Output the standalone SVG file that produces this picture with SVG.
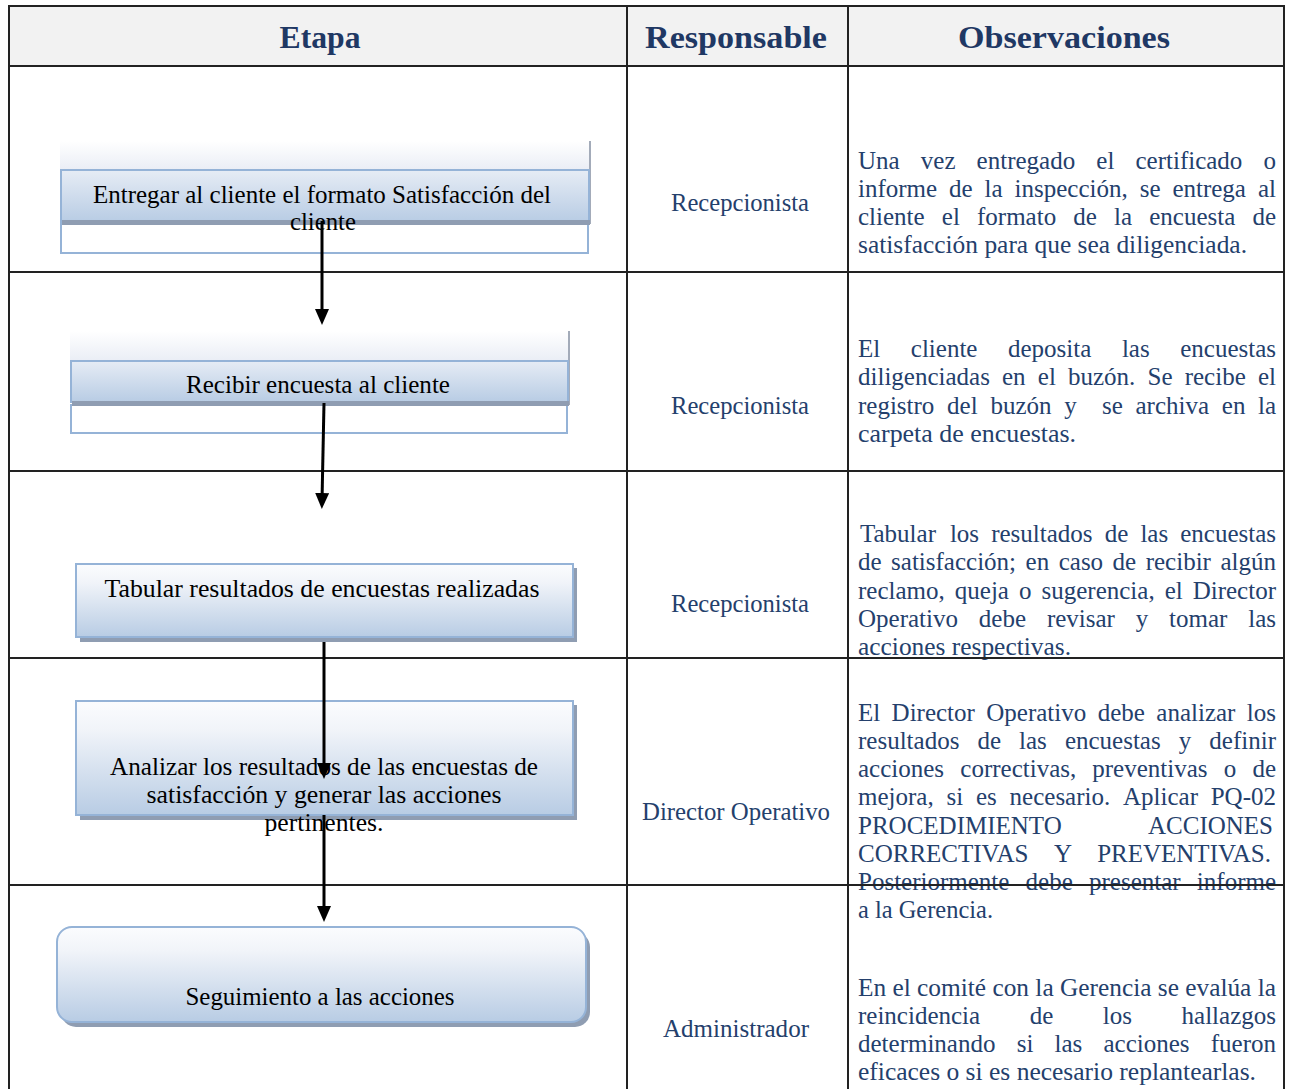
<svg xmlns="http://www.w3.org/2000/svg" width="1289" height="1089" viewBox="0 0 1289 1089">
<defs>
<style>
.hdr{font-family:"Liberation Serif",serif;font-weight:bold;font-size:31px;fill:#1f3864;text-anchor:middle}
.resp{font-family:"Liberation Serif",serif;font-size:25px;fill:#24406c;text-anchor:middle}
.obs{font-family:"Liberation Serif",serif;font-size:25px;fill:#24406c}
.lbl{font-family:"Liberation Serif",serif;font-size:25px;fill:#000;text-anchor:middle}
.grid{stroke:#222;stroke-width:2;fill:none}
.bord{stroke:#95b3d7;stroke-width:2}
.shadow{fill:#8f9db2}
.conn{stroke:#000;stroke-width:3;fill:none;marker-end:url(#arr)}
</style>
<linearGradient id="fade" x1="0" y1="0" x2="0" y2="1">
<stop offset="0" stop-color="#ffffff"/><stop offset="1" stop-color="#e9edf5"/>
</linearGradient>
<linearGradient id="band" x1="0" y1="0" x2="0" y2="1">
<stop offset="0" stop-color="#e6ecf5"/><stop offset="1" stop-color="#b8cce4"/>
</linearGradient>
<linearGradient id="box" x1="0" y1="0" x2="0" y2="1">
<stop offset="0" stop-color="#fbfcfe"/><stop offset="0.25" stop-color="#f1f4f9"/><stop offset="1" stop-color="#b8cce4"/>
</linearGradient>
<marker id="arr" viewBox="0 0 16 14" refX="8" refY="7" markerWidth="16" markerHeight="14" markerUnits="userSpaceOnUse" orient="auto">
<path d="M0,0 L16,7 L0,14 z" fill="#000"/>
</marker>
</defs>

<rect x="0" y="0" width="1289" height="1089" fill="#fff"/>
<rect x="9" y="6" width="1275" height="60" fill="#f2f2f2"/>

<g id="headers">
<text class="hdr" x="320" y="48" textLength="81" lengthAdjust="spacingAndGlyphs">Etapa</text>
<text class="hdr" x="736" y="48" textLength="182" lengthAdjust="spacingAndGlyphs">Responsable</text>
<text class="hdr" x="1064" y="48" textLength="212" lengthAdjust="spacingAndGlyphs">Observaciones</text>
</g>

<g id="responsables">
<text class="resp" x="740" y="211" textLength="138" lengthAdjust="spacingAndGlyphs">Recepcionista</text>
<text class="resp" x="740" y="414" textLength="138" lengthAdjust="spacingAndGlyphs">Recepcionista</text>
<text class="resp" x="740" y="612" textLength="138" lengthAdjust="spacingAndGlyphs">Recepcionista</text>
<text class="resp" x="736" y="820" textLength="188" lengthAdjust="spacingAndGlyphs">Director Operativo</text>
<text class="resp" x="736" y="1037" textLength="146" lengthAdjust="spacingAndGlyphs">Administrador</text>
</g>

<g id="observaciones">
<text class="obs" y="169"><tspan x="858">Una</tspan><tspan x="920.8">vez</tspan><tspan x="976.6">entregado</tspan><tspan x="1096.3">el</tspan><tspan x="1135.5">certificado</tspan><tspan x="1276" text-anchor="end">o</tspan></text>
<text class="obs" y="197"><tspan x="858">informe</tspan><tspan x="949.1">de</tspan><tspan x="984.6">la</tspan><tspan x="1014.6">inspección,</tspan><tspan x="1139.7">se</tspan><tspan x="1172.4">entrega</tspan><tspan x="1276" text-anchor="end">al</tspan></text>
<text class="obs" y="225"><tspan x="858">cliente</tspan><tspan x="941.8">el</tspan><tspan x="977">formato</tspan><tspan x="1073.3">de</tspan><tspan x="1114">la</tspan><tspan x="1149.2">encuesta</tspan><tspan x="1276" text-anchor="end">de</tspan></text>
<text class="obs" x="858" y="253" textLength="389" lengthAdjust="spacingAndGlyphs">satisfacción para que sea diligenciada.</text>

<text class="obs" y="357"><tspan x="858">El</tspan><tspan x="910.8">cliente</tspan><tspan x="1008">deposita</tspan><tspan x="1121.9">las</tspan><tspan x="1276" text-anchor="end">encuestas</tspan></text>
<text class="obs" y="385"><tspan x="858">diligenciadas</tspan><tspan x="1002">en</tspan><tspan x="1037.8">el</tspan><tspan x="1068">buzón.</tspan><tspan x="1147.5">Se</tspan><tspan x="1184.7">recibe</tspan><tspan x="1276" text-anchor="end">el</tspan></text>
<text class="obs" y="414"><tspan x="858">registro</tspan><tspan x="947.1">del</tspan><tspan x="990.4">buzón</tspan><tspan x="1064.2">y</tspan><tspan x="1102">se</tspan><tspan x="1135.5">archiva</tspan><tspan x="1221.8">en</tspan><tspan x="1276" text-anchor="end">la</tspan></text>
<text class="obs" x="858" y="442" textLength="218" lengthAdjust="spacingAndGlyphs">carpeta de encuestas.</text>

<text class="obs" y="542"><tspan x="860">Tabular</tspan><tspan x="949.9">los</tspan><tspan x="991.2">resultados</tspan><tspan x="1104.7">de</tspan><tspan x="1140.4">las</tspan><tspan x="1276" text-anchor="end">encuestas</tspan></text>
<text class="obs" y="570"><tspan x="858">de</tspan><tspan x="891.1">satisfacción;</tspan><tspan x="1025.6">en</tspan><tspan x="1058.7">caso</tspan><tspan x="1112.6">de</tspan><tspan x="1145.7">recibir</tspan><tspan x="1276" text-anchor="end">algún</tspan></text>
<text class="obs" y="599"><tspan x="858">reclamo,</tspan><tspan x="954.8">queja</tspan><tspan x="1019">o</tspan><tspan x="1041.5">sugerencia,</tspan><tspan x="1164.7">el</tspan><tspan x="1276" text-anchor="end">Director</tspan></text>
<text class="obs" y="627"><tspan x="858">Operativo</tspan><tspan x="978.8">debe</tspan><tspan x="1046.9">revisar</tspan><tspan x="1135.7">y</tspan><tspan x="1169">tomar</tspan><tspan x="1276" text-anchor="end">las</tspan></text>
<text class="obs" x="858" y="655" textLength="213" lengthAdjust="spacingAndGlyphs">acciones respectivas.</text>

<text class="obs" y="721"><tspan x="858">El</tspan><tspan x="891.6">Director</tspan><tspan x="986.3">Operativo</tspan><tspan x="1097.7">debe</tspan><tspan x="1156.3">analizar</tspan><tspan x="1276" text-anchor="end">los</tspan></text>
<text class="obs" y="749"><tspan x="858">resultados</tspan><tspan x="977.4">de</tspan><tspan x="1019">las</tspan><tspan x="1064.9">encuestas</tspan><tspan x="1178.7">y</tspan><tspan x="1276" text-anchor="end">definir</tspan></text>
<text class="obs" y="777"><tspan x="858">acciones</tspan><tspan x="960.3">correctivas,</tspan><tspan x="1092.3">preventivas</tspan><tspan x="1223.8">o</tspan><tspan x="1276" text-anchor="end">de</tspan></text>
<text class="obs" y="805"><tspan x="858">mejora,</tspan><tspan x="946.5">si</tspan><tspan x="976">es</tspan><tspan x="1009.6">necesario.</tspan><tspan x="1123">Aplicar</tspan><tspan x="1276" text-anchor="end">PQ-02</tspan></text>
<text class="obs" y="834"><tspan x="858">PROCEDIMIENTO</tspan><tspan x="1273" text-anchor="end">ACCIONES</tspan></text>
<text class="obs" y="862"><tspan x="858">CORRECTIVAS</tspan><tspan x="1054">Y</tspan><tspan x="1271" text-anchor="end">PREVENTIVAS.</tspan></text>
<text class="obs" y="890"><tspan x="858">Posteriormente</tspan><tspan x="1025.6">debe</tspan><tspan x="1089">presentar</tspan><tspan x="1276" text-anchor="end">informe</tspan></text>
<text class="obs" x="858" y="918" textLength="135" lengthAdjust="spacingAndGlyphs">a la Gerencia.</text>

<text class="obs" x="858" y="996" textLength="418" lengthAdjust="spacingAndGlyphs">En el comité con la Gerencia se evalúa la</text>
<text class="obs" y="1024"><tspan x="858">reincidencia</tspan><tspan x="1029.7">de</tspan><tspan x="1102.8">los</tspan><tspan x="1276" text-anchor="end">hallazgos</tspan></text>
<text class="obs" y="1052"><tspan x="858">determinando</tspan><tspan x="1016.7">si</tspan><tspan x="1054.5">las</tspan><tspan x="1103.5">acciones</tspan><tspan x="1276" text-anchor="end">fueron</tspan></text>
<text class="obs" x="858" y="1080" textLength="398" lengthAdjust="spacingAndGlyphs">eficaces o si es necesario replantearlas.</text>
</g>

<g id="grid">
<rect class="grid" x="9" y="6" width="1275" height="1090"/>
<line class="grid" x1="627" y1="6" x2="627" y2="1089"/>
<line class="grid" x1="848" y1="6" x2="848" y2="1089"/>
<line class="grid" x1="9" y1="66" x2="1284" y2="66" stroke="#555"/>
<line class="grid" x1="9" y1="272" x2="1284" y2="272"/>
<line class="grid" x1="9" y1="471" x2="1284" y2="471"/>
<line class="grid" x1="9" y1="658" x2="1284" y2="658"/>
<line class="grid" x1="9" y1="885" x2="1284" y2="885"/>
</g>

<g id="node1">
<rect x="60" y="141" width="530" height="30" fill="url(#fade)"/>
<line x1="590" y1="141" x2="590" y2="224" stroke="#a3abb9" stroke-width="2"/>
<rect class="bord" x="61" y="170" width="528" height="52" fill="url(#band)"/>
<rect class="bord" x="61" y="224" width="527" height="29" fill="#fff"/>
<rect class="shadow" x="62" y="220" width="528" height="5"/>
<text class="lbl" x="322" y="203" textLength="458" lengthAdjust="spacingAndGlyphs">Entregar al cliente el formato Satisfacción del</text>
<text class="lbl" x="323" y="230" textLength="66" lengthAdjust="spacingAndGlyphs">cliente</text>
</g>

<g id="node2">
<rect x="70" y="331" width="499" height="31" fill="url(#fade)"/>
<line x1="569" y1="331" x2="569" y2="405" stroke="#a3abb9" stroke-width="2"/>
<rect class="bord" x="71" y="361" width="497" height="41" fill="url(#band)"/>
<rect class="bord" x="71" y="405" width="496" height="28" fill="#fff"/>
<rect class="shadow" x="72" y="401" width="497" height="5"/>
<text class="lbl" x="318" y="393" textLength="264" lengthAdjust="spacingAndGlyphs">Recibir encuesta al cliente</text>
</g>

<g id="node3">
<rect class="shadow" x="80" y="568" width="497" height="74"/>
<rect class="bord" x="76" y="564" width="497" height="73" fill="url(#box)"/>
<text class="lbl" x="322" y="597" textLength="435" lengthAdjust="spacingAndGlyphs">Tabular resultados de encuestas realizadas</text>
</g>

<g id="node4">
<rect class="shadow" x="80" y="705" width="497" height="115"/>
<rect class="bord" x="76" y="701" width="497" height="114" fill="url(#box)"/>
<text class="lbl" x="324" y="775" textLength="428" lengthAdjust="spacingAndGlyphs">Analizar los resultados de las encuestas de</text>
<text class="lbl" x="324" y="803" textLength="355" lengthAdjust="spacingAndGlyphs">satisfacción  y generar las acciones</text>
<text class="lbl" x="324" y="831" textLength="119" lengthAdjust="spacingAndGlyphs">pertinentes.</text>
</g>

<g id="node5">
<rect class="shadow" x="61" y="932" width="529" height="95" rx="15"/>
<rect class="bord" x="57" y="927" width="529" height="95" rx="15" fill="url(#box)"/>
<text class="lbl" x="320" y="1005" textLength="269" lengthAdjust="spacingAndGlyphs">Seguimiento a las acciones</text>
</g>

<g id="connectors">
<line class="conn" x1="322" y1="221" x2="322" y2="317"/>
<line class="conn" x1="324" y1="403" x2="322" y2="501"/>
<line class="conn" x1="324" y1="642" x2="324" y2="771"/>
<line class="conn" x1="324" y1="815" x2="324" y2="914"/>
</g>
</svg>
